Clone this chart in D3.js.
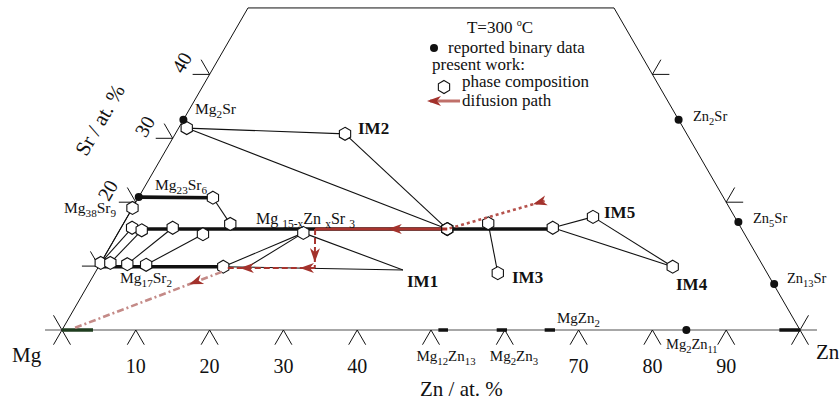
<!DOCTYPE html>
<html>
<head>
<meta charset="utf-8">
<script src="https://cdn.jsdelivr.net/npm/d3@7"></script>
<style>
  body { margin: 0; background: #fff; }
  svg { display: block; }
  text { font-family: "Liberation Serif", "DejaVu Serif", serif; fill: #111; }
</style>
</head>
<body>
<svg id="chart" width="840" height="405"></svg>
<script>
// all compositions are [Zn at.%, Sr at.%], Mg is the balance

// reported binary compounds (black dots)
const binaryNames = ['Mg2Sr', 'Mg23Sr6', 'Zn2Sr', 'Zn5Sr', 'Zn13Sr', 'Mg2Zn11'];
const binaryComp = [[0, 32.9], [0, 20.8], [67.1, 32.9], [83.2, 16.9], [92.9, 7.2], [84.6, 0]];

// binary phase ranges along the Mg-Zn side (Zn at.%)
const baseRanges = [[0, 4.2], [51.0, 52.3], [58.9, 60.3], [65.4, 66.8], [97.2, 100]];

// phase compositions measured in present work (hexagons)
const phaseIds = ['a', 'im2', 'b', 'c', 'd1', 'd2', 'd3', 'd4', 'd5', 'e1', 'e2', 'e3', 'e4', 'e5',
  'mg15', 'f', 'g', 'im3', 'h', 'im5', 'im4'];
const phaseComp = [
  [1.1, 31.6], [23.0, 30.7], [10.1, 20.7], [0, 19.1],
  [1.5, 16.0], [3.0, 15.6], [7.0, 16.0], [11.6, 15.0], [14.5, 16.6],
  [0, 10.5], [1.3, 10.5], [3.7, 10.3], [6.3, 10.2], [16.9, 9.9],
  [25.1, 15.2], [44.3, 15.8], [49.4, 16.7], [54.6, 8.9], [58.5, 16.0], [63.1, 17.7], [77.8, 9.9]
];
// tie-line corners without a hexagon
const extraIds = ['im1', 'x1'];
const extraComp = [[41.5, 9.4], [20.1, 9.7]];

// homogeneity ranges (thick lines)
const thickLines = [
  [[0, 20.8], [10.1, 20.7]],
  [[1.6, 15.8], [58.6, 15.8]],
  [[0.2, 9.9], [16.9, 9.9]]
];

// thin tie lines
const tieLines = [
  ['a', 'im2'], ['a', 'f'], ['im2', 'f'], ['b', 'd5'],
  ['e1', 'c'], ['e1', 'd1'], ['e2', 'd2'], ['e3', 'd3'], ['e4', 'd4'],
  ['e5', 'mg15'], ['x1', 'mg15'], ['mg15', 'im1'], ['e5', 'im1'],
  ['g', 'im3'], ['h', 'im5'], ['h', 'im4'], ['im5', 'im4']
];

// diffusion path
const pathPts = [[55.3, 20.2], [44.3, 15.8], [26.4, 15.8], [29.4, 9.7], [17.6, 9.7]];
const pathArrowT = [[0.12], [0.45], [0.85], [0.17, 0.86]];
const tailPts = [[17.1, 9.1], [1.5, 0.3]];
const tailArrowT = [0.22];

// axis ticks
const bottomTicks = [10, 20, 30, 40, 50, 60, 70, 80, 90];
const bottomLabels = ['10', '20', '30', '40', '', '', '70', '80', '90'];
const leftTicks = [10, 20, 30, 40];
const leftLabels = ['', '20', '30', '40'];
const rightTicks = [20, 40];
const topSr = 50.4;

const svg = d3.select('#chart');
const sx = d3.scaleLinear().domain([0, 100]).range([62, 800]);
const sy = d3.scaleLinear().domain([0, 100]).range([330, 330 - 639]);
const P = ([zn, sr]) => [sx(zn + sr / 2), sy(sr)];
const line = d3.line();
const RED = '#a3322c';
const d = 2.3;

const nodes = {};
phaseIds.forEach((id, i) => nodes[id] = phaseComp[i]);
extraIds.forEach((id, i) => nodes[id] = extraComp[i]);

function seg(g, a, b, stroke, w, dash) {
  return g.append('path').attr('d', line([P(a), P(b)]))
    .attr('stroke', stroke).attr('stroke-width', w).attr('fill', 'none')
    .attr('stroke-dasharray', dash || null);
}

function hexPath(r) {
  const pts = d3.range(6).map(k => {
    const a = -Math.PI / 2 + k * Math.PI / 3;
    return [r * Math.cos(a), r * Math.sin(a)];
  });
  return line(pts) + 'Z';
}

function arrowHead(g, p, q, t, color) {
  const a = P(p), b = P(q);
  const x = a[0] + t * (b[0] - a[0]), y = a[1] + t * (b[1] - a[1]);
  const ang = Math.atan2(b[1] - a[1], b[0] - a[0]) * 180 / Math.PI;
  g.append('path').attr('d', 'M0,0L-14,-5L-10,0L-14,5Z')
    .attr('fill', color)
    .attr('transform', `translate(${x},${y}) rotate(${ang})`);
}

// text with _{sub} and ^{sup} parts
function rich(g, str, x, y, size, opts = {}) {
  const t = g.append('text').attr('x', x).attr('y', y).attr('font-size', size)
    .attr('font-weight', opts.bold ? 'bold' : null)
    .attr('text-anchor', opts.anchor || 'start');
  const parts = str.split(/([_^]\{[^}]*\})/).filter(s => s.length);
  let shift = 0;
  parts.forEach(s => {
    let target = 0, txt = s, fs = null;
    if (s[0] === '_') { target = size * 0.28; txt = s.slice(2, -1); fs = size * 0.72; }
    if (s[0] === '^') { target = -size * 0.4; txt = s.slice(2, -1); fs = size * 0.6; }
    t.append('tspan').attr('dy', target - shift).attr('font-size', fs).text(txt);
    shift = target;
  });
  return t;
}

// triangle frame
const frame = svg.append('g');
seg(frame, [-d, 0], [100 + d, 0], '#8a8a8a', 1.5);
seg(frame, [0, -d], [0, topSr], '#111', 1);
seg(frame, [100 + d, -d], [100 - topSr, topSr], '#111', 1);
seg(frame, [0, topSr], [100 - topSr, topSr], '#111', 1);
seg(frame, [-d, d], [d, -d], '#111', 1);
seg(frame, [100, -d], [100, d], '#111', 1);

// ticks
bottomTicks.forEach(v => {
  frame.append('path').attr('d', line([P([v, -d]), P([v, 0]), P([v + d, -d])]))
    .attr('stroke', '#111').attr('fill', 'none').attr('stroke-width', 1);
});
leftTicks.forEach(v => {
  frame.append('path').attr('d', line([P([-d, v]), P([0, v]), P([-d, v + d])]))
    .attr('stroke', '#111').attr('fill', 'none').attr('stroke-width', 1);
});
rightTicks.forEach(v => {
  frame.append('path').attr('d', line([P([100 - v + d, v]), P([100 - v, v]), P([100 - v, v + d])]))
    .attr('stroke', '#111').attr('fill', 'none').attr('stroke-width', 1);
});
bottomTicks.forEach((v, i) => {
  if (!bottomLabels[i]) return;
  frame.append('text').attr('x', sx(v)).attr('y', 373).attr('font-size', 20)
    .attr('text-anchor', 'middle').text(bottomLabels[i]);
});
leftTicks.forEach((v, i) => {
  if (!leftLabels[i]) return;
  const [x, y] = P([0, v]);
  frame.append('text').attr('font-size', 20).attr('text-anchor', 'middle')
    .attr('dominant-baseline', 'central')
    .attr('transform', `translate(${x - 28},${y - 12}) rotate(-60)`).text(leftLabels[i]);
});

// axis titles and corners
frame.append('text').attr('x', 12).attr('y', 362).attr('font-size', 21).text('Mg');
frame.append('text').attr('x', 816).attr('y', 359).attr('font-size', 21).text('Zn');
frame.append('text').attr('x', 420).attr('y', 396).attr('font-size', 21).text('Zn / at. %');
frame.append('text').attr('font-size', 21).attr('text-anchor', 'middle')
  .attr('dominant-baseline', 'central')
  .attr('transform', 'translate(100,120) rotate(-60)').text('Sr / at. %');

// binary ranges on the base line
baseRanges.forEach((r, i) => {
  seg(frame, [r[0], 0], [r[1], 0], i === 0 ? '#1f3d1f' : '#111', 3.5);
});

// tie lines
const ties = svg.append('g');
tieLines.forEach(([a, b]) => seg(ties, nodes[a], nodes[b], '#111', 1.1));
thickLines.forEach(([a, b]) => seg(ties, a, b, '#111', 3.6));

// diffusion path
const diff = svg.append('g');
const pathStyles = [
  { stroke: '#b5524c', w: 2.6, dash: '3,3' },
  { stroke: '#a8342e', w: 3, dash: null },
  { stroke: '#a8342e', w: 2, dash: '6,3' },
  { stroke: '#a8342e', w: 2, dash: '6,3' }
];
pathStyles.forEach((s, i) => {
  seg(diff, pathPts[i], pathPts[i + 1], s.stroke, s.w, s.dash);
});
seg(diff, tailPts[0], tailPts[1], '#c48a87', 2.6, '7,3,2,3');

// hexagons
const hex = hexPath(6.5);
svg.append('g').selectAll('path').data(phaseComp).join('path')
  .attr('d', hex).attr('transform', c => `translate(${P(c)})`)
  .attr('fill', '#fff').attr('stroke', '#111').attr('stroke-width', 1.1);

// arrowheads on top
pathArrowT.forEach((ts, i) => ts.forEach(t => arrowHead(diff, pathPts[i], pathPts[i + 1], t, RED)));
tailArrowT.forEach(t => arrowHead(diff, tailPts[0], tailPts[1], t, RED));
svg.node().appendChild(diff.node());
// hexagon outline kept visible where the path turns
svg.append('path').attr('d', hex).attr('transform', `translate(${P(pathPts[1])})`)
  .attr('fill', 'none').attr('stroke', '#111').attr('stroke-width', 1.1);

// reported binary dots
svg.append('g').selectAll('circle').data(binaryComp).join('circle')
  .attr('cx', c => P(c)[0]).attr('cy', c => P(c)[1]).attr('r', 4).attr('fill', '#111');

// phase labels
const labels = svg.append('g');
const fs = 15.5;
rich(labels, 'Mg_{2}Sr', 195, 114, fs);
rich(labels, 'Mg_{23}Sr_{6}', 155, 190, fs);
rich(labels, 'Mg_{38}Sr_{9}', 64, 213, fs);
rich(labels, 'Mg_{17}Sr_{2}', 120, 283, fs);
rich(labels, 'Mg _{15-x}Zn _{x}Sr _{3}', 256, 224, 16);
rich(labels, 'Zn_{2}Sr', 693, 121, 14.5);
rich(labels, 'Zn_{5}Sr', 753, 223, 14.5);
rich(labels, 'Zn_{13}Sr', 787, 283, 14.5);
rich(labels, 'MgZn_{2}', 557, 323, 15);
rich(labels, 'Mg_{12}Zn_{13}', 446, 361, 15, { anchor: 'middle' });
rich(labels, 'Mg_{2}Zn_{3}', 514, 361, 15, { anchor: 'middle' });
rich(labels, 'Mg_{2}Zn_{11}', 666, 349, 14.5);
rich(labels, 'IM1', 407, 287, 17, { bold: true });
rich(labels, 'IM2', 358, 134, 17, { bold: true });
rich(labels, 'IM3', 512, 283, 17, { bold: true });
rich(labels, 'IM4', 676, 290, 17, { bold: true });
rich(labels, 'IM5', 604, 218, 17, { bold: true });

// legend
const lg = svg.append('g');
rich(lg, 'T=300 ^{o}C', 500, 33, 17, { anchor: 'middle' });
lg.append('circle').attr('cx', 434).attr('cy', 48).attr('r', 4).attr('fill', '#111');
lg.append('text').attr('x', 448).attr('y', 53).attr('font-size', 17).text('reported binary data');
lg.append('text').attr('x', 432).attr('y', 70).attr('font-size', 17).text('present work:');
lg.append('path').attr('d', hex).attr('transform', 'translate(444,87)')
  .attr('fill', '#fff').attr('stroke', '#111').attr('stroke-width', 1.1);
lg.append('text').attr('x', 462).attr('y', 87).attr('font-size', 17).text('phase composition');
lg.append('line').attr('x1', 430).attr('x2', 460).attr('y1', 101).attr('y2', 101)
  .attr('stroke', '#c0706a').attr('stroke-width', 3);
lg.append('path').attr('d', 'M0,0L14,-5L10,0L14,5Z').attr('fill', RED)
  .attr('transform', 'translate(427,101)');
lg.append('text').attr('x', 462).attr('y', 106).attr('font-size', 17).text('difusion path');
</script>
</body>
</html>
